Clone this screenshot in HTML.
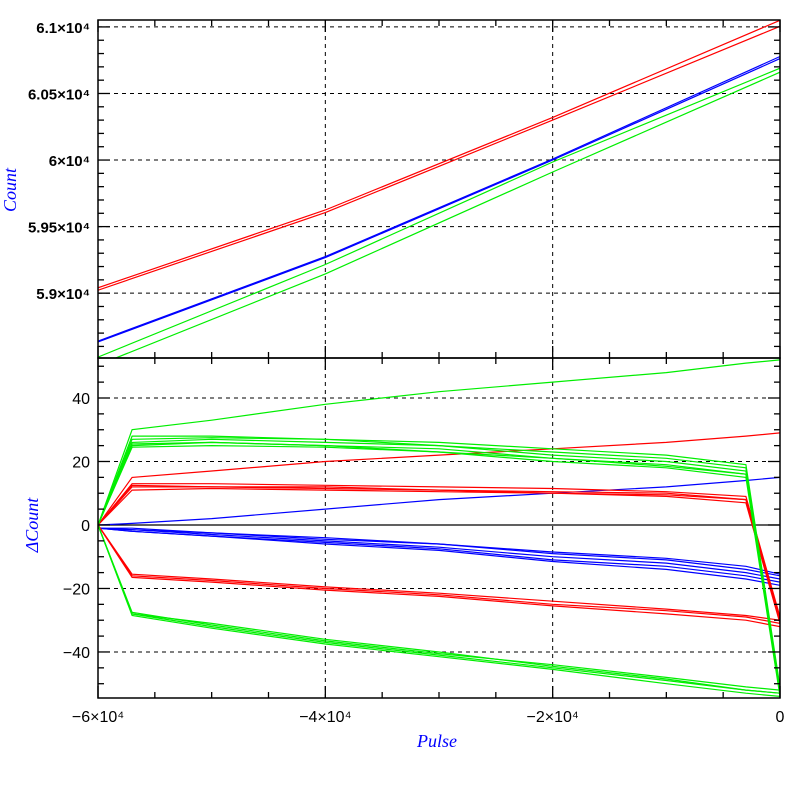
<!DOCTYPE html>
<html><head><meta charset="utf-8"><style>
body{margin:0;background:#fff}
svg{display:block;font-family:"Liberation Sans",sans-serif}
</style></head><body>
<svg id="c" width="797" height="797"></svg>
<script>
const xs=[-60000,-57000,-50000,-40000,-30000,-20000,-10000,-3000,0];
const topX=[-60000,-40000,-20000,0];
const topRed=[[59040,59625,60320,61050],[59022,59605,60300,61005]];
const topBlue=[[58633,59267,60000,60762],[58640,59275,60008,60778]];
const topGreen=[[58520,59215,59985,60690],[58460,59145,59910,60660]];
const greenUpper=[[0,26,27,26,25,22,20,17,-52],[0,25,26,25,24,21,19,16,-53],[0,27,27.5,27,25,23,21,18,-52],[0,25.5,26,25,23,20,18,15,-54],[0,28,28,27,26,24,22,19,-51],[0,24.5,25,24.5,23,21,18.5,16,-53]];
const greenSingle=[[0,30,33,38,42,45,48,51,52]];
const greenLower=[[0,-28,-32,-37,-41,-45,-49,-52,-53],[0,-27.5,-31.5,-36.5,-40.5,-44,-48,-51,-52],[0,-28.5,-32.5,-37.5,-41.5,-45.5,-50,-53,-54],[0,-28,-31,-36,-40,-44.5,-48.5,-52,-53]];
const redUpper=[[0,12,12,12,11,10.5,10,8,-30],[0,11,11.5,11,10.5,10,9,7,-31],[0,13,13,12.5,12,11.5,10.5,9,-29],[0,12.5,12,11.5,11,10,9.5,8,-30]];
const redSingle=[[0,15,17,20,22,24,26,28,29]];
const redLower=[[0,-16,-17.5,-20,-22,-25,-27,-29,-31],[0,-15.5,-17,-19.5,-21.5,-24,-26.5,-28.5,-30],[0,-16.5,-18,-20.5,-22.5,-25.5,-28,-30,-32]];
const blueBundle=[[-1,-1.5,-3,-5,-7,-10,-12,-15,-17],[-1,-1,-2.5,-4.5,-6,-9,-11,-14,-16],[-1,-2,-3.5,-5.5,-7.5,-11,-13,-16,-18],[-1,-1.5,-2.5,-4,-6,-8.5,-10.5,-13,-15.5],[-1,-2,-3.5,-6,-8,-11.5,-14,-17,-19]];
const blueSingle=[[0,0.5,2,5,8,10,12,14,15]];
const xTicks=[-60000,-40000,-20000,0];
const xTickLabels=["\u22126\u00d710\u2074","\u22124\u00d710\u2074","\u22122\u00d710\u2074","0"];
const topTicks=[59000,59500,60000,60500,61000];
const topTickLabels=["5.9\u00d710\u2074","5.95\u00d710\u2074","6\u00d710\u2074","6.05\u00d710\u2074","6.1\u00d710\u2074"];
const botTicks=[-40,-20,0,20,40];

const svg=document.getElementById('c');const NS='http://www.w3.org/2000/svg';
const L=98,R=780,T1=20,B1=358,T2=358,B2=698;
const X=v=>L+(v+60000)/60000*(R-L);
const Y1=v=>T1+(61052-v)/(61052-58513)*(B1-T1);
const Y2=v=>T2+(52.6-v)/(52.6+54.5)*(B2-T2);
function el(t,a,p){const e=document.createElementNS(NS,t);for(const k in a)e.setAttribute(k,a[k]);(p||svg).appendChild(e);return e;}
function line(x1,y1,x2,y2,extra,name){const e=el('line',Object.assign({x1,y1,x2,y2,stroke:'#000','stroke-width':1.3},extra||{}));

return e;}
function series(xv,yv,Yf,col,name,clip){const d=yv.map((v,i)=>(i?'L':'M')+X(xv[i]).toFixed(1)+','+Yf(v).toFixed(1)).join('');
const p=el('path',{d,fill:'none',stroke:col,'stroke-width':1.2,'clip-path':clip});

}
const defs=el('defs',{});
const c1=el('clipPath',{id:'k1'},defs);el('rect',{x:L,y:T1,width:R-L,height:B1-T1},c1);
const c2=el('clipPath',{id:'k2'},defs);el('rect',{x:L,y:T2,width:R-L,height:B2-T2},c2);
xTicks.slice(1,3).forEach(v=>{line(X(v),T1,X(v),B1,{'stroke-dasharray':'4,4',"stroke-width":1},'x-grid-top');line(X(v),T2,X(v),B2,{'stroke-dasharray':'4,4',"stroke-width":1},'x-grid-bottom');});
topTicks.forEach(v=>line(L,Y1(v),R,Y1(v),{'stroke-dasharray':'4,4',"stroke-width":1},'y-grid-top'));
botTicks.forEach(v=>{if(v!==0)line(L,Y2(v),R,Y2(v),{'stroke-dasharray':'4,4',"stroke-width":1},'y-grid-bottom');});
line(L,Y2(0),R,Y2(0),{},'zero-line');
topRed.forEach(s=>series(topX,s,Y1,'#f00','top-red-line','url(#k1)'));
topBlue.forEach(s=>series(topX,s,Y1,'#00f','top-blue-line','url(#k1)'));
topGreen.forEach(s=>series(topX,s,Y1,'#0e0','top-green-line','url(#k1)'));
blueBundle.forEach(s=>series(xs,s,Y2,'#00f','blue-delta-line','url(#k2)'));
blueSingle.forEach(s=>series(xs,s,Y2,'#00f','blue-delta-single','url(#k2)'));
redUpper.forEach(s=>series(xs,s,Y2,'#f00','red-upper-line','url(#k2)'));
redLower.forEach(s=>series(xs,s,Y2,'#f00','red-lower-line','url(#k2)'));
redSingle.forEach(s=>series(xs,s,Y2,'#f00','red-single-line','url(#k2)'));
greenUpper.forEach(s=>series(xs,s,Y2,'#0e0','green-upper-line','url(#k2)'));
greenLower.forEach(s=>series(xs,s,Y2,'#0e0','green-lower-line','url(#k2)'));
greenSingle.forEach(s=>series(xs,s,Y2,'#0e0','green-single-line','url(#k2)'));
[[T1,B1],[T2,B2]].forEach(([t,b],i)=>{const r=el('rect',{x:L,y:t,width:R-L,height:b-t,fill:'none',stroke:'#000','stroke-width':1.5});

});
for(let v=-60000;v<=0;v+=5000){const maj=v%20000===0,len=maj?12:6;
[[T1,1],[B1,-1],[T2,1],[B2,-1]].forEach(([y,d])=>line(X(v),y,X(v),y+d*len,{},'x-tick'));}
for(let v=58600;v<=61000;v+=100){const y=Y1(v);if(y<T1||y>B1)continue;const len=v%500===0?12:6;line(L,y,L+len,y,{},'y-tick-top');line(R,y,R-len,y,{},'y-tick-top');}
for(let v=-50;v<=50;v+=5){const y=Y2(v);const len=v%20===0?12:6;line(L,y,L+len,y,{},'y-tick-bottom');line(R,y,R-len,y,{},'y-tick-bottom');}
function txt(x,y,s,a,name){const t=el('text',Object.assign({x,y},a));t.textContent=s;

return t;}
topTicks.forEach((v,i)=>txt(90,Y1(v)+6,topTickLabels[i],{'text-anchor':'end','font-size':15,'font-weight':'bold'},'y-tick-label-top'));
botTicks.forEach(v=>txt(90,Y2(v)+6,v<0?'\u2212'+(-v):String(v),{'text-anchor':'end','font-size':16},'y-tick-label-bottom'));
xTicks.forEach((v,i)=>txt(X(v),722,xTickLabels[i],{'text-anchor':'middle','font-size':16},'x-tick-label'));
const st={'font-family':'Liberation Serif,serif','font-style':'italic','font-size':18,fill:'#00f','text-anchor':'middle'};
txt(437,747,'Pulse',st,'x-axis-title');
txt(0,0,'Count',Object.assign({transform:'translate(16,190) rotate(-90)'},st),'y-axis-title-top');
txt(0,0,'\u0394Count',Object.assign({transform:'translate(38,525) rotate(-90)'},st),'y-axis-title-bottom');
</script>
</body></html>
